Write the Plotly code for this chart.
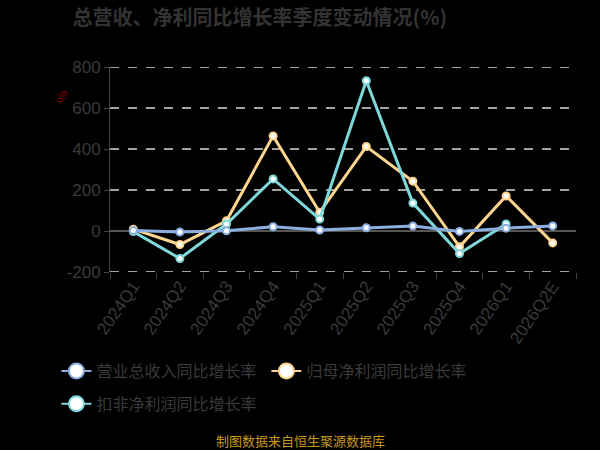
import plotly.graph_objects as go

quarters = ["2024Q1", "2024Q2", "2024Q3", "2024Q4", "2025Q1",
            "2025Q2", "2025Q3", "2025Q4", "2026Q1", "2026Q2E"]
revenue_yoy = [2, -5, 1, 21, 5, 16, 24, -2, 14, 25]
net_profit_yoy = [9, -66, 50, 464, 91, 412, 243, -77, 171, -58]
deducted_profit_yoy = [-3, -134, 34, 254, 58, 733, 136, -110, 34, None]
y_ticks = [-200, 0, 200, 400, 600, 800]

names = ["营业总收入同比增长率", "归母净利润同比增长率", "扣非净利润同比增长率"]
colors = ["#8CAFE2", "#FFD48F", "#7FD7D9"]
series = [revenue_yoy, net_profit_yoy, deducted_profit_yoy]
legend_ids = ["legend", "legend", "legend2"]

font = "Noto Sans CJK SC"
fig = go.Figure()

# dashed grid drawn as shapes so the edge lines (800, -200) show too
for v in y_ticks:
    if v != 0:
        fig.add_shape(type="line", xref="paper", yref="y", x0=0, x1=1, y0=v, y1=v,
                      line=dict(color="#d8d8d8", width=1.5, dash="dash"), layer="below")

# draw order: yellow, cyan, then blue on top
for i in [1, 2, 0]:
    fig.add_trace(go.Scatter(
        x=quarters, y=series[i], mode="lines+markers", name=names[i],
        line=dict(color=colors[i], width=3),
        marker=dict(size=7, color="white", line=dict(color=colors[i], width=2)),
        showlegend=False,
    ))

# legend entries with bigger symbols
for i in range(3):
    fig.add_trace(go.Scatter(
        x=[None], y=[None], mode="lines+markers", name=names[i],
        legend=legend_ids[i],
        line=dict(color=colors[i], width=2),
        marker=dict(size=15, color="white", line=dict(color=colors[i], width=2)),
    ))

legend_style = dict(orientation="h", xanchor="left", yanchor="top",
                    entrywidth=165, entrywidthmode="pixels",
                    font=dict(family=font, size=16, color="#3a3a3a"),
                    bgcolor="rgba(0,0,0,0)")

tick_font = dict(family="Liberation Sans", size=17, color="#3a3a3a")

fig.update_layout(
    width=600, height=450,
    paper_bgcolor="black", plot_bgcolor="black",
    margin=dict(l=110, r=24, t=67, b=178),
    title=dict(text="<b>总营收、净利同比增长率季度变动情况(%)</b>", x=0.433, xanchor="center",
               y=0.96, yanchor="middle", font=dict(family=font, size=20, color="#333333")),
    font=dict(family=font, color="#3a3a3a"),
    legend=dict(x=-0.115, y=-0.4, **legend_style),
    legend2=dict(x=-0.115, y=-0.56, **legend_style),
    xaxis=dict(type="category", range=[-0.5, 9.5], tickangle=-55, showgrid=False,
               ticks="outside", tickson="boundaries", ticklen=6, tickcolor="#444",
               showline=False, zeroline=False, tickfont=tick_font),
    yaxis=dict(range=[-200, 800], tickvals=y_ticks,
               ticktext=[str(v) for v in y_ticks],
               showgrid=False, zeroline=True, zerolinecolor="#555555",
               zerolinewidth=1.5, showline=True, linecolor="#444444", ticks="outside",
               ticklen=5, tickcolor="#444", tickfont=tick_font),
    annotations=[
        dict(text="%", xref="paper", yref="paper", x=-0.103, y=0.855, showarrow=False,
             xanchor="center", yanchor="middle",
             textangle=-90, font=dict(size=13, color="#8B0000")),
        dict(text="制图数据来自恒生聚源数据库", xref="paper", yref="paper", x=0.408, y=-0.82,
             xanchor="center", yanchor="middle", showarrow=False,
             font=dict(family=font, size=13, color="#C8961E")),
    ],
)

fig.write_html("out.html", config={"displayModeBar": False},
               post_script="document.body.style.margin='0';")
